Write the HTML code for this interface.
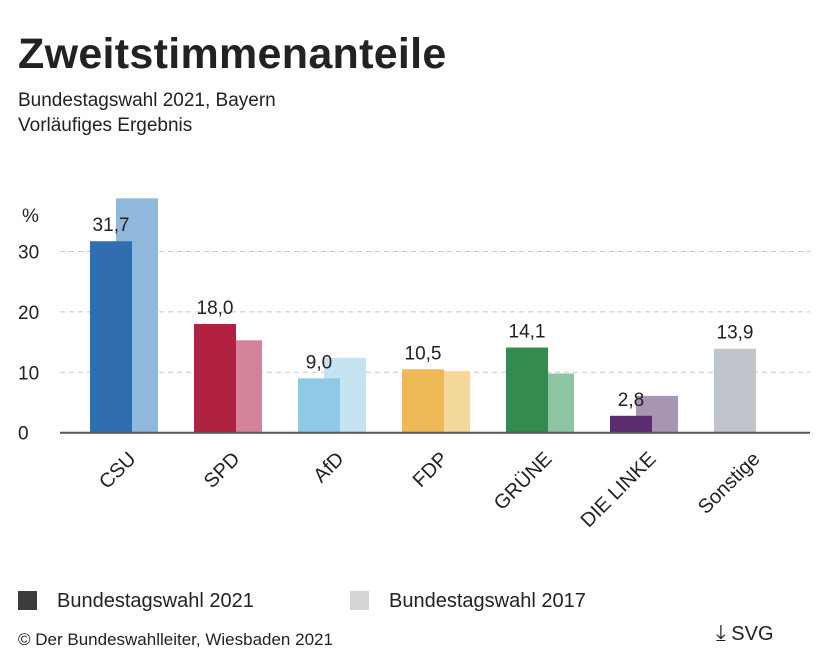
<!DOCTYPE html>
<html><head><meta charset="utf-8"><style>
body{margin:0;background:#fff;font-family:"Liberation Sans",sans-serif;color:#222}
#wrap{position:relative;width:828px;height:671px;overflow:hidden}
</style></head><body>
<div id="wrap">
<div style="position:absolute;left:18px;top:30px;font-size:43px;font-weight:bold;letter-spacing:0.3px">Zweitstimmenanteile</div>
<div style="position:absolute;left:18px;top:88px;font-size:19px;line-height:25px">Bundestagswahl 2021, Bayern<br>Vorläufiges Ergebnis</div>
<svg id="chart" width="828" height="560" style="position:absolute;left:0;top:0"></svg>
<div style="position:absolute;left:18px;top:590px;font-size:20px"><span style="display:inline-block;width:19px;height:19px;background:#3c3c3c;vertical-align:-3px;margin-right:20px"></span>Bundestagswahl 2021</div>
<div style="position:absolute;left:350px;top:590px;font-size:20px"><span style="display:inline-block;width:19px;height:19px;background:#d4d4d4;vertical-align:-3px;margin-right:20px"></span>Bundestagswahl 2017</div>
<div style="position:absolute;left:18px;top:630px;font-size:17px">© Der Bundeswahlleiter, Wiesbaden 2021</div>
<div style="position:absolute;left:716px;top:620px;font-size:20px"><span style="font-size:22px">⤓</span> SVG</div>
</div>
<script>
const categories=["CSU","SPD","AfD","FDP","GRÜNE","DIE LINKE","Sonstige"];
const values2021=[31.7,18.0,9.0,10.5,14.1,2.8,13.9];
const values2017=[38.8,15.3,12.4,10.2,9.8,6.1,null];
const labels2021=["31,7","18,0","9,0","10,5","14,1","2,8","13,9"];
const ticks=[0,10,20,30];
const colors2021=["#2f6fb0","#b0223f","#8ecae6","#ecb955","#358a4f","#5b2c6f","#c0c5cb"];
const colors2017=["#8fb8da","#d4829a","#c5e3f2","#f5d99c","#8fc4a3","#a695b3","#dfe2e5"];
const NS="http://www.w3.org/2000/svg";
const svg=document.getElementById('chart');
const y0=432.7,k=6.04;
const y=v=>y0-v*k;
const x=i=>90+i*104;
function mk(t,a){const e=document.createElementNS(NS,t);for(const n in a)e.setAttribute(n,a[n]);svg.appendChild(e);return e;}
ticks.forEach(t=>{
 if(t>0){const l=mk('line',{x1:60,x2:810,y1:y(t),y2:y(t),stroke:'#c8c8c8','stroke-dasharray':'5,4'});
 
 }
 const tx=mk('text',{x:18,y:y(t)+7,'font-size':19,fill:'#222'});tx.textContent=t;
 
 
});
const pc=mk('text',{x:22,y:222,'font-size':19,fill:'#222'});pc.textContent='%';


categories.forEach((c,i)=>{
 if(values2017[i]!=null){const b=mk('rect',{x:x(i)+26,y:y(values2017[i]),width:42,height:values2017[i]*k,fill:colors2017[i]});
 
 }
 const b2=mk('rect',{x:x(i),y:y(values2021[i]),width:42,height:values2021[i]*k,fill:colors2021[i]});
 
 
 const v=mk('text',{x:x(i)+21,y:y(values2021[i])-10,'font-size':19,'text-anchor':'middle',fill:'#222'});v.textContent=labels2021[i];
 
 
 const cx=x(i)+47,cy=460;
 const lb=mk('text',{x:cx,y:cy,'font-size':20,'text-anchor':'end',fill:'#222',transform:`rotate(-45 ${cx} ${cy})`});lb.textContent=c;
 
 
});
const ax=mk('line',{x1:60,x2:810,y1:y0,y2:y0,stroke:'#555','stroke-width':2});


</script>
</body></html>
